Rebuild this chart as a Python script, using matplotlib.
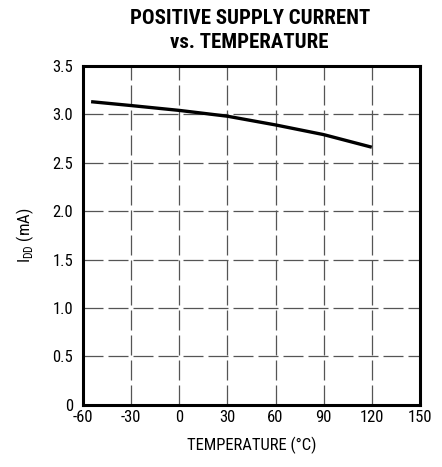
import matplotlib.pyplot as plt
from matplotlib import font_manager
import numpy as np

temp = [-55, -30, 0, 30, 60, 90, 120]
idd = [3.13, 3.09, 3.04, 2.98, 2.89, 2.79, 2.66]

xticks = [-60, -30, 0, 30, 60, 90, 120, 150]
yticks = [0, 0.5, 1.0, 1.5, 2.0, 2.5, 3.0, 3.5]
yticklabels = ['0', '0.5', '1.0', '1.5', '2.0', '2.5', '3.0', '3.5']

# pick a narrow face if one is around
names = set(f.name for f in font_manager.fontManager.ttflist)
narrow = [n for n in ['Liberation Sans Narrow', 'Roboto Condensed', 'Open Sans Condensed',
                      'DejaVu Sans Condensed'] if n in names]
cond = [f for f in font_manager.fontManager.ttflist
        if 'condensed' in str(f.stretch) or (isinstance(f.stretch, int) and f.stretch < 500)]
fam = narrow + ['DejaVu Sans']
stretch = 'normal'
if not narrow and cond:
    fam = [cond[0].name, 'DejaVu Sans']
    stretch = 'condensed'

plt.rcParams['font.family'] = fam
plt.rcParams['font.stretch'] = stretch
plt.rcParams['axes.unicode_minus'] = False

fig = plt.figure(figsize=(4.42, 4.67), dpi=100)
ax = fig.add_axes([0.188, 0.133, 0.762, 0.726])

ax.plot(temp, idd, color='black', lw=2.4, solid_capstyle='butt')

ax.set_xlim(-60, 150)
ax.set_ylim(0, 3.5)
ax.set_xticks(xticks)
ax.set_yticks(yticks)
ax.set_yticklabels(yticklabels)
ax.tick_params(length=0, labelsize=12)
ax.tick_params(axis='x', pad=4)
ax.tick_params(axis='y', pad=7)
ax.grid(True, color='#555555', lw=0.9, linestyle=(0, (16, 4)))

for s in ax.spines.values():
    s.set_linewidth(2.2)

ax.set_xlabel('TEMPERATURE (°C)', fontsize=12, labelpad=8)
ax.set_ylabel(r'I$_{\mathregular{DD}}$ (mA)', fontsize=12, labelpad=12)

fig.text(0.565, 0.935, 'POSITIVE SUPPLY CURRENT\nvs. TEMPERATURE', ha='center', va='center',
         fontsize=15, fontweight='heavy', linespacing=1.3)

fig.savefig('out.png', dpi=100)
